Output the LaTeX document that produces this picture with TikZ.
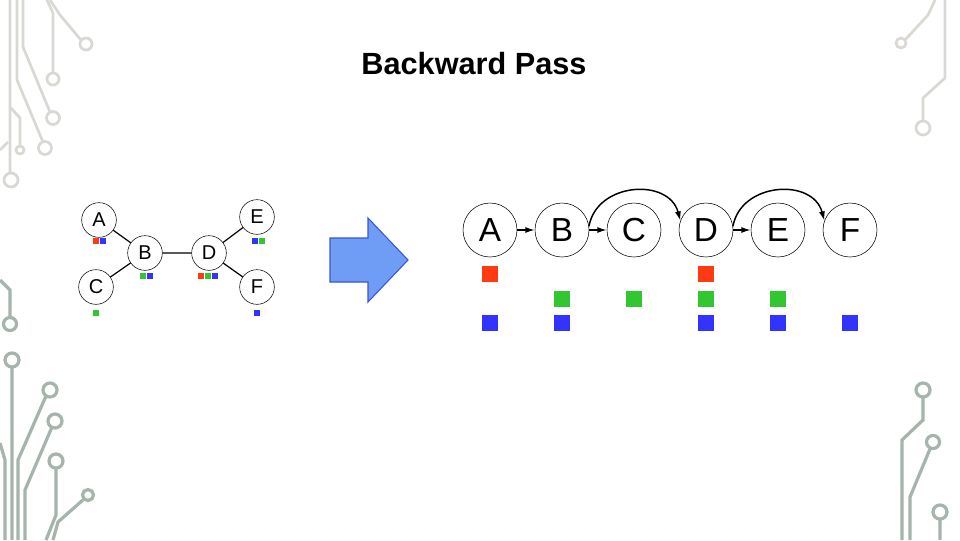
\documentclass[tikz,border=0pt]{standalone}
\usepackage{fontspec}
\setmainfont{Liberation Sans}
\usetikzlibrary{arrows.meta}
\definecolor{cred}{HTML}{FF3A10}
\definecolor{cgreen}{HTML}{33C633}
\definecolor{cblue}{HTML}{3333FF}
\definecolor{dtop}{HTML}{DAD8D2}
\definecolor{dbot}{HTML}{A5B5AC}
\definecolor{afill}{HTML}{6F9CF4}
\definecolor{adraw}{HTML}{3A55D8}
\begin{document}
\begin{tikzpicture}[x=0.75pt,y=-0.75pt,
  big/.style={circle,draw,thin,minimum size=40.5pt,inner sep=0pt,font=\fontsize{25}{25}\selectfont},
  small/.style={circle,draw,thin,minimum size=26pt,inner sep=0pt,font=\fontsize{15}{15}\selectfont},
  bsq/.style={minimum size=12pt,inner sep=0pt},
  ssq/.style={minimum size=4.8pt,inner sep=0pt},
  carr/.style={line width=1.1pt,-{Latex[length=7pt,width=4.5pt]}},
  dt/.style={draw=dtop,line width=2pt},
  db/.style={draw=dbot,line width=2.4pt},
  ]
\useasboundingbox (0,0) rectangle (960,540);
\fill[white] (0,0) rectangle (960,540);
% decorations top-left
\draw[dt] (47,0)--(53,13)--(53,73) (53,79) circle (6);
\draw[dt] (50,0)--(60,15)--(81,40) (86,44) circle (6);
\draw[dt] (23,0)--(23,47)--(50,112) (53,118) circle (6.5);
\draw[dt] (17,0)--(17,80)--(43,142) (45,148) circle (6.5);
\draw[dt] (10,0)--(10,107)--(20,118)--(20,146) (20,150) circle (4);
\draw[dt] (10,107)--(10,173) (11,180) circle (7);
\draw[dt] (0,150)--(8,142);
% top-right
\draw[dt] (935,0)--(928,15)--(905,40) (901,43) circle (5);
\draw[dt] (945,0)--(945,78)--(923,98)--(923,121) (923,128) circle (7);
% bottom-left
\draw[db] (0,280)--(10,290)--(10,317) (10,324) circle (6.5);
\draw[db] (12,367)--(12,540) (12,360) circle (7);
\draw[db] (46,396)--(18,460)--(18,540) (50,390) circle (7);
\draw[db] (52,427)--(25,490)--(25,540) (55,421) circle (7);
\draw[db] (56,468)--(56,515)--(46,540) (56,461) circle (7);
\draw[db] (84,499)--(58,522)--(53,540) (88,495) circle (5.5);
\draw[db] (0,443)--(5,460)--(5,540);
% bottom-right
\draw[db] (923,397)--(923,420)--(902,440)--(902,540) (923,390) circle (7);
\draw[db] (930,449)--(910,497)--(910,540) (933,442) circle (6.5);
\draw[db] (940,519)--(940,540) (940,512) circle (7);
% title
\node[font=\bfseries\fontsize{23}{23}\selectfont] (title) at (474,64) {Backward Pass};
% left graph
\node[small] (a) at (99,220) {A};
\node[small] (b) at (145,253) {B};
\node[small] (c) at (96,287) {C};
\node[small] (d) at (209,253) {D};
\node[small] (e) at (257,217) {E};
\node[small] (f) at (257,287) {F};
\draw[line width=0.9pt] (a)--(b) (c)--(b) (b)--(d) (d)--(e) (d)--(f);
\node[ssq,fill=cred] (a1) at (96,241) {};
\node[ssq,fill=cblue] (a2) at (103,241) {};
\node[ssq,fill=cgreen] (b1) at (143,276) {};
\node[ssq,fill=cblue] (b2) at (150,276) {};
\node[ssq,fill=cred] (d1) at (201,276) {};
\node[ssq,fill=cgreen] (d2) at (208,276) {};
\node[ssq,fill=cblue] (d3) at (215,276) {};
\node[ssq,fill=cblue] (e1) at (255,241) {};
\node[ssq,fill=cgreen] (e2) at (262,241) {};
\node[ssq,fill=cgreen] (c1) at (96,313) {};
\node[ssq,fill=cblue] (f1) at (257,313) {};
% block arrow
\draw[fill=afill,draw=adraw,thick]
  (330,238)--(368,238)--(368,218)--(408,260)--(368,302)--(368,282)--(330,282)--cycle;
% chain
\node[big] (A) at (490,230) {A};
\node[big] (B) at (562,230) {B};
\node[big] (C) at (634,230) {C};
\node[big] (D) at (706,230) {D};
\node[big] (E) at (778,230) {E};
\node[big] (F) at (850,230) {F};
\draw[carr] (A)--(B);
\draw[carr] (B)--(C);
\draw[carr] (D)--(E);
\draw[carr] (B.8) to[out=80,in=105,looseness=1.25] (D.160);
\draw[carr] (D.8) to[out=80,in=105,looseness=1.25] (F.160);
\foreach \x/\n in {490/rA,706/rD}{\node[bsq,fill=cred] (\n) at (\x,274) {};}
\foreach \x/\n in {562/gB,634/gC,706/gD,778/gE}{\node[bsq,fill=cgreen] (\n) at (\x,299) {};}
\foreach \x/\n in {490/uA,562/uB,706/uD,778/uE,850/uF}{\node[bsq,fill=cblue] (\n) at (\x,323) {};}
\end{tikzpicture}
\end{document}
